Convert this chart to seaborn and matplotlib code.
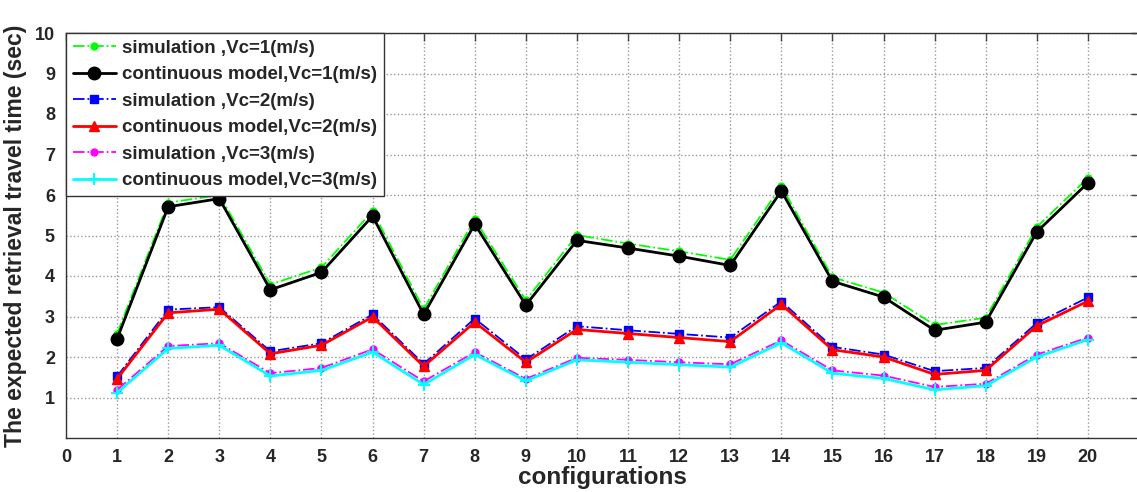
import numpy as np
import pandas as pd
import seaborn as sns
import matplotlib.pyplot as plt

configs = list(range(1, 21))

sim_v1 = [2.58, 5.81, 6.00, 3.79, 4.21, 5.60, 3.18, 5.40, 3.40, 5.01,
          4.80, 4.61, 4.40, 6.22, 3.97, 3.59, 2.79, 2.97, 5.21, 6.42]
cont_v1 = [2.45, 5.71, 5.91, 3.66, 4.09, 5.48, 3.05, 5.28, 3.28, 4.88,
           4.69, 4.49, 4.26, 6.10, 3.87, 3.48, 2.66, 2.86, 5.09, 6.30]
sim_v2 = [1.52, 3.17, 3.23, 2.14, 2.34, 3.05, 1.83, 2.95, 1.94, 2.76,
          2.66, 2.57, 2.48, 3.37, 2.25, 2.06, 1.65, 1.73, 2.84, 3.47]
cont_v2 = [1.46, 3.09, 3.18, 2.08, 2.29, 2.99, 1.77, 2.86, 1.87, 2.68,
           2.58, 2.48, 2.38, 3.30, 2.18, 2.00, 1.57, 1.67, 2.77, 3.38]
sim_v3 = [1.19, 2.27, 2.34, 1.60, 1.73, 2.19, 1.40, 2.12, 1.46, 1.98,
          1.93, 1.87, 1.82, 2.41, 1.67, 1.54, 1.26, 1.34, 2.06, 2.48]
cont_v3 = [1.12, 2.21, 2.29, 1.53, 1.67, 2.12, 1.32, 2.06, 1.41, 1.93,
           1.87, 1.81, 1.75, 2.35, 1.60, 1.47, 1.19, 1.29, 2.00, 2.43]

series_names = ["simulation ,Vc=1(m/s)", "continuous model,Vc=1(m/s)",
                "simulation ,Vc=2(m/s)", "continuous model,Vc=2(m/s)",
                "simulation ,Vc=3(m/s)", "continuous model,Vc=3(m/s)"]
series_vals = [sim_v1, cont_v1, sim_v2, cont_v2, sim_v3, cont_v3]

# style per series: color, linestyle, marker, markersize, linewidth
styles = [
    ("#00ff00", "-.", "o", 5, 1.3),
    ("black", "-", "o", 9, 2.0),
    ("blue", "-.", "s", 6, 1.3),
    ("red", "-", "^", 7.5, 2.0),
    ("magenta", "-.", "o", 5, 1.3),
    ("cyan", "-", "+", 8, 2.0),
]

sns.set_style("white")
plt.rcParams['font.family'] = ['Liberation Sans', 'DejaVu Sans']
plt.rcParams['font.weight'] = 'bold'

fig = plt.figure(figsize=(11.37, 4.92), dpi=100)
ax = fig.add_axes([66 / 1137, 1 - 438 / 492, (1139 - 66) / 1137, (438 - 33) / 492])

for name, vals, (c, ls, m, ms, lw) in zip(series_names, series_vals, styles):
    df = pd.DataFrame({"config": configs, "time": vals})
    sns.lineplot(data=df, x="config", y="time", ax=ax, color=c, linestyle=ls,
                 marker=m, markersize=ms, linewidth=lw, markeredgecolor=c,
                 markeredgewidth=1.5 if m == "+" else 1.0, label=name)

ax.set_xlim(0, 21)
ax.set_ylim(0, 10)
ax.set_xticks(range(0, 21))
ax.set_yticks(range(1, 11))
ax.tick_params(direction="in", top=True, right=True, length=6, width=1,
               labelsize=13, color="#444444")
ax.tick_params(axis="x", pad=8)
ax.tick_params(axis="y", pad=8)
for lab in ax.get_xticklabels() + ax.get_yticklabels():
    lab.set_fontweight("bold")
ax.grid(True, linestyle=":", color="#999999", linewidth=1)
for s in ax.spines.values():
    s.set_color("#333333")
    s.set_linewidth(1)

ax.set_xlabel("configurations", fontsize=17.5, fontweight="bold", labelpad=0)
ax.set_ylabel("The expected retrieval travel time (sec)", fontsize=16.5,
              fontweight="bold")
ax.yaxis.set_label_coords(-0.036, 0.5)

leg = ax.legend(loc="upper left", bbox_to_anchor=(0, 1), borderaxespad=0,
                fontsize=13.5, handlelength=2.3, handletextpad=0.35,
                labelspacing=0.5, borderpad=0.35, fancybox=False,
                framealpha=1, edgecolor="#333333")
for t in leg.get_texts():
    t.set_fontweight("bold")

plt.savefig("out.png", dpi=100)
